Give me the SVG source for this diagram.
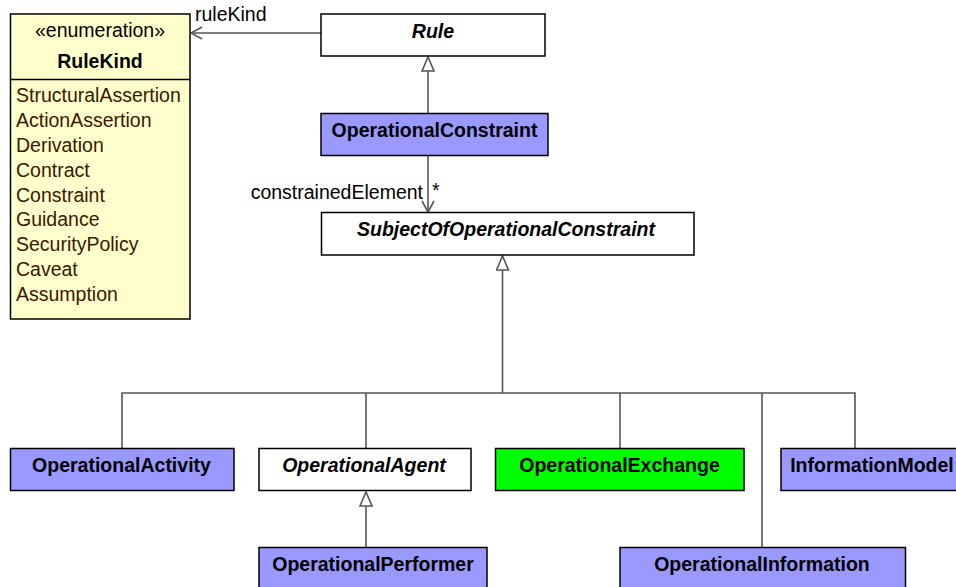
<svg xmlns="http://www.w3.org/2000/svg" width="956" height="587" viewBox="0 0 956 587">
<style>
  .box { stroke: #000; stroke-width: 1.5; }
  .white { fill: #fff; }
  .purple { fill: #9999ff; }
  .green { fill: #00ff00; }
  .enum { fill: #ffffcc; }
  .name { font-family: "Liberation Sans", Arial, sans-serif; font-size: 19.5px; font-weight: bold; fill: #000; text-anchor: middle; }
  .abs { font-style: italic; }
  .lit { font-family: "Liberation Sans", Arial, sans-serif; font-size: 19.5px; fill: #3a1800; }
  .lbl { font-family: "Liberation Sans", Arial, sans-serif; font-size: 19.5px; fill: #000; }
  .line { stroke: #555; stroke-width: 1.6; fill: none; }
</style>
<defs>
  <marker id="gen" viewBox="0 0 16 14" refX="15" refY="7" markerWidth="16" markerHeight="14" markerUnits="userSpaceOnUse" orient="auto">
    <path d="M1,1 L15,7 L1,13 Z" fill="#fff" stroke="#555" stroke-width="1.6"/>
  </marker>
  <marker id="open" viewBox="0 0 14 14" refX="13" refY="7" markerWidth="14" markerHeight="14" markerUnits="userSpaceOnUse" orient="auto">
    <path d="M2,1 L13,7 L2,13" fill="none" stroke="#555" stroke-width="1.6"/>
  </marker>
</defs>
<rect width="956" height="587" fill="#fff"/>

<g id="connectors">
  <line class="line" x1="321" y1="33" x2="191" y2="33" marker-end="url(#open)"/>
  <line class="line" x1="428" y1="113" x2="428" y2="57" marker-end="url(#gen)"/>
  <line class="line" x1="428" y1="156" x2="428" y2="212" marker-end="url(#open)"/>
  <line class="line" x1="502.5" y1="393" x2="502.5" y2="256" marker-end="url(#gen)"/>
  <polyline class="line" points="122,448 122,393 855,393 855,448"/>
  <line class="line" x1="366" y1="393" x2="366" y2="448"/>
  <line class="line" x1="620" y1="393" x2="620" y2="448"/>
  <line class="line" x1="762" y1="393" x2="762" y2="547"/>
  <line class="line" x1="366" y1="547" x2="366" y2="492" marker-end="url(#gen)"/>
  <text class="lbl" x="195" y="21">ruleKind</text>
  <text class="lbl" x="423" y="199" text-anchor="end">constrainedElement</text>
  <text class="lbl" x="432" y="197">*</text>
</g>

<g id="RuleKind">
  <rect class="box enum" x="10.5" y="14" width="179.5" height="305"/>
  <line x1="10.5" y1="79.5" x2="190" y2="79.5" stroke="#000" stroke-width="1.5"/>
  <text class="lit" x="100" y="37" text-anchor="middle" style="fill:#000">«enumeration»</text>
  <text class="name" x="100" y="68">RuleKind</text>
  <text class="lit" x="16" y="102">StructuralAssertion</text>
  <text class="lit" x="16" y="127">ActionAssertion</text>
  <text class="lit" x="16" y="152">Derivation</text>
  <text class="lit" x="16" y="177">Contract</text>
  <text class="lit" x="16" y="202">Constraint</text>
  <text class="lit" x="16" y="226">Guidance</text>
  <text class="lit" x="16" y="251">SecurityPolicy</text>
  <text class="lit" x="16" y="276">Caveat</text>
  <text class="lit" x="16" y="301">Assumption</text>
</g>

<g id="Rule">
  <rect class="box white" x="321" y="14" width="224" height="42"/>
  <text class="name abs" x="433" y="38">Rule</text>
</g>

<g id="OperationalConstraint">
  <rect class="box purple" x="321" y="113.5" width="227" height="42"/>
  <text class="name" x="434.5" y="137">OperationalConstraint</text>
</g>

<g id="SubjectOfOperationalConstraint">
  <rect class="box white" x="321.5" y="212.5" width="372.5" height="42.5"/>
  <text class="name abs" x="506" y="236">SubjectOfOperationalConstraint</text>
</g>

<g id="OperationalActivity">
  <rect class="box purple" x="10.5" y="448.5" width="223.5" height="42"/>
  <text class="name" x="121.5" y="472">OperationalActivity</text>
</g>

<g id="OperationalAgent">
  <rect class="box white" x="259" y="448.5" width="212" height="42"/>
  <text class="name abs" x="364" y="472">OperationalAgent</text>
</g>

<g id="OperationalExchange">
  <rect class="box green" x="495.5" y="448.5" width="248.5" height="42"/>
  <text class="name" x="619.5" y="472">OperationalExchange</text>
</g>

<g id="InformationModel">
  <rect class="box purple" x="781" y="448.5" width="182" height="42"/>
  <text class="name" x="872" y="472">InformationModel</text>
</g>

<g id="OperationalPerformer">
  <rect class="box purple" x="259" y="547.5" width="228" height="50"/>
  <text class="name" x="373" y="571">OperationalPerformer</text>
</g>

<g id="OperationalInformation">
  <rect class="box purple" x="620" y="547.5" width="285.5" height="50"/>
  <text class="name" x="762" y="571">OperationalInformation</text>
</g>
</svg>
